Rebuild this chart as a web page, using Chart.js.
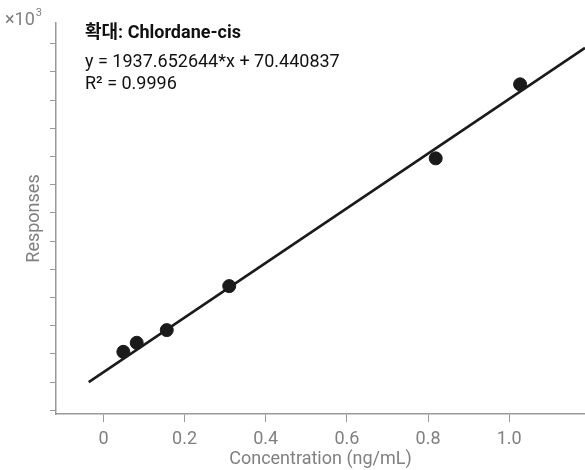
<!DOCTYPE html>
<html lang="ko">
<head>
<meta charset="UTF-8">
<title>Chlordane-cis calibration</title>
<script src="https://cdn.jsdelivr.net/npm/chart.js"></script>
<style>
  html, body { margin: 0; padding: 0; background: #fff; }
  #wrap { width: 585px; height: 470px; }
</style>
</head>
<body>
<div id="wrap"><canvas id="calib"></canvas></div>
<script>
// calibration points (concentration in ng/mL, response)
const concentrations = [0.049, 0.082, 0.156, 0.31, 0.819, 1.027];
const responses = [215, 279, 369, 681, 1587, 2112];

// linear fit
const slope = 1937.652644;
const intercept = 70.440837;
const rSquared = '0.9996';

// axis ticks
const xTicks = [0, 0.2, 0.4, 0.6, 0.8, 1.0];
const yTicks = [-200, 0, 200, 400, 600, 800, 1000, 1200, 1400, 1600, 1800, 2000, 2200, 2400];

const titleText = '확대: Chlordane-cis';
const eqText = 'y = ' + slope.toFixed(6) + '*x + ' + intercept.toFixed(6);
const r2Text = 'R² = ' + rSquared;

const X_MIN = -0.117, X_MAX = 1.187;
const Y_MIN = -226, Y_MAX = 2547;

const FONT = 'Roboto, "Noto Sans CJK KR", sans-serif';
const GREY = '#808080';
const AXIS = '#999999';

// fitted line runs from where it crosses zero to the right edge
const fitX = [-intercept / slope, X_MAX];
const fitPoints = fitX.map(x => ({ x: x, y: slope * x + intercept }));

const labelsPlugin = {
  id: 'labels',
  afterDraw(chart) {
    const ctx = chart.ctx;
    ctx.save();
    ctx.textBaseline = 'alphabetic';
    ctx.textAlign = 'left';
    // exponent marker
    ctx.fillStyle = GREY;
    ctx.font = '18px ' + FONT;
    ctx.fillText('×10', 5, 25);
    const w = ctx.measureText('×10').width;
    ctx.font = '11px ' + FONT;
    ctx.fillText('3', 5 + w + 1, 16);
    // title and fit info
    ctx.fillStyle = '#111';
    ctx.font = 'bold 18px ' + FONT;
    ctx.fillText(titleText, 85, 38);
    ctx.font = '18px ' + FONT;
    ctx.fillText(eqText, 85, 67);
    ctx.fillText(r2Text, 85, 89);
    ctx.restore();
  }
};

const noPad = s => { s.paddingLeft = 0; s.paddingRight = 0; s.paddingTop = 0; s.paddingBottom = 0; };

new Chart(document.getElementById('calib'), {
  type: 'scatter',
  data: {
    datasets: [{
      type: 'line',
      data: fitPoints,
      borderColor: '#1a1a1a',
      borderWidth: 2.5,
      pointRadius: 0,
      fill: false,
      order: 2
    }, {
      data: concentrations.map((c, i) => ({ x: c, y: responses[i] })),
      backgroundColor: '#1a1a1a',
      borderColor: '#1a1a1a',
      pointRadius: 6.5,
      order: 1
    }]
  },
  options: {
    responsive: true,
    maintainAspectRatio: false,
    animation: false,
    layout: { autoPadding: false, padding: { top: 23, left: 0, right: 0, bottom: 0 } },
    plugins: { legend: { display: false }, tooltip: { enabled: false } },
    scales: {
      x: {
        type: 'linear',
        min: X_MIN,
        max: X_MAX,
        afterBuildTicks: s => { s.ticks = xTicks.map(v => ({ value: v })); },
        afterFit: s => { s.height = 56; noPad(s); },
        grid: { drawOnChartArea: false, drawTicks: true, tickLength: 8, color: AXIS },
        border: { color: AXIS, width: 1.5 },
        ticks: {
          color: GREY,
          font: { size: 18, family: FONT },
          padding: 7,
          maxRotation: 0,
          callback: v => v === 0 ? '0' : v.toFixed(1)
        },
        title: {
          display: true,
          text: 'Concentration (ng/mL)',
          color: GREY,
          font: { size: 18, family: FONT },
          padding: { top: 0, bottom: 0 }
        }
      },
      y: {
        type: 'linear',
        min: Y_MIN,
        max: Y_MAX,
        afterBuildTicks: s => { s.ticks = yTicks.map(v => ({ value: v })); },
        afterFit: s => { s.width = 56; noPad(s); },
        grid: { drawOnChartArea: false, drawTicks: true, tickLength: 6, color: AXIS },
        border: { color: AXIS, width: 1.5 },
        ticks: { display: false },
        title: {
          display: true,
          text: 'Responses',
          color: GREY,
          font: { size: 18, family: FONT },
          padding: { top: 24, bottom: 0 }
        }
      }
    }
  },
  plugins: [labelsPlugin]
});
</script>
</body>
</html>
